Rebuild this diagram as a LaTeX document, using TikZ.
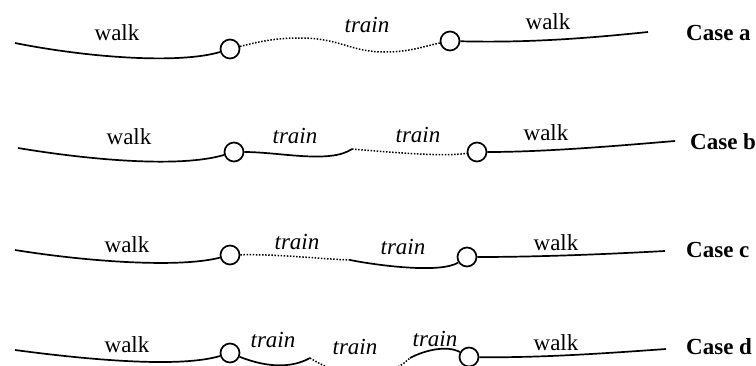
\documentclass[tikz,border=0pt]{standalone}
\usepackage{fontspec}
\setmainfont{Liberation Serif}
\begin{document}
\begin{tikzpicture}[x=1pt,y=-1pt,
  stop/.style={circle,draw,line width=1.7pt,minimum size=19pt,inner sep=0pt,fill=white},
  walkleg/.style={line width=1.7pt},
  trainleg/.style={line width=1.5pt,dash pattern=on 1.5pt off 1.6pt},
  lbl/.style={font=\fontsize{23}{26}\selectfont,inner sep=0pt},
  tlbl/.style={font=\fontsize{23}{26}\selectfont\itshape,inner sep=0pt},
  caselbl/.style={font=\fontsize{23}{26}\selectfont\bfseries,inner sep=0pt,anchor=west}]
\useasboundingbox (0,0) rectangle (756,365);
\clip (0,0) rectangle (756,365);
% Case a
\coordinate (a0) at (15,43);
\node[stop] (a1) at (230,49) {};
\node[stop] (a2) at (450,41) {};
\coordinate (a3) at (648,32);
\draw[walkleg] (a0) .. controls (90,58) and (180,64) .. (a1);
\draw[trainleg] (a1) .. controls (265,40) and (280,38) .. (300,38) .. controls (340,38) and (350,52) .. (385,52) .. controls (410,52) and (425,46) .. (a2);
\draw[walkleg] (a2) .. controls (530,43) and (590,38) .. (a3);
\node[lbl] (aw1) at (117,33) {walk};
\node[tlbl] (at1) at (367,25) {train};
\node[lbl] (aw2) at (548,22) {walk};
\node[caselbl] (ca) at (686,33) {Case a};
% Case b
\coordinate (b0) at (18,148);
\node[stop] (b1) at (234,152) {};
\coordinate (bm) at (352,149);
\node[stop] (b2) at (477,152) {};
\coordinate (b3) at (675,141);
\draw[walkleg] (b0) .. controls (90,160) and (180,168) .. (b1);
\draw[walkleg] (b1) .. controls (280,152) and (330,164) .. (bm);
\draw[trainleg] (bm) .. controls (390,152) and (440,157) .. (b2);
\draw[walkleg] (b2) .. controls (545,152) and (615,146) .. (b3);
\node[lbl] (bw1) at (129,137) {walk};
\node[tlbl] (bt1) at (295,136) {train};
\node[tlbl] (bt2) at (418,135) {train};
\node[lbl] (bw2) at (546,133) {walk};
\node[caselbl] (cb) at (690,142) {Case b};
% Case c
\coordinate (c0) at (15,250);
\node[stop] (c1) at (230,255) {};
\coordinate (cm) at (350,260);
\node[stop] (c2) at (467,257) {};
\coordinate (c3) at (665,251);
\draw[walkleg] (c0) .. controls (90,262) and (180,268) .. (c1);
\draw[trainleg] (c1) .. controls (280,254) and (320,259) .. (cm);
\draw[walkleg] (cm) .. controls (375,265) and (440,274) .. (c2);
\draw[walkleg] (c2) .. controls (540,257) and (610,254) .. (c3);
\node[lbl] (cw1) at (127,245) {walk};
\node[tlbl] (ct1) at (297,242) {train};
\node[tlbl] (ct2) at (403,247) {train};
\node[lbl] (cw2) at (556,243) {walk};
\node[caselbl] (cc) at (686,250) {Case c};
% Case d
\coordinate (d0) at (15,350);
\node[stop] (d1) at (230,353) {};
\coordinate (dm1) at (310,358);
\coordinate (dm2) at (410,358);
\node[stop] (d2) at (469,357) {};
\coordinate (d3) at (666,349);
\draw[walkleg] (d0) .. controls (90,360) and (180,368) .. (d1);
\draw[walkleg] (d1) .. controls (268,368) and (292,368) .. (dm1);
\draw[trainleg] (dm1) .. controls (345,380) and (385,382) .. (dm2);
\draw[walkleg] (dm2) .. controls (425,350) and (447,345) .. (d2);
\draw[walkleg] (d2) .. controls (540,358) and (610,353) .. (d3);
\node[lbl] (dw1) at (127,345) {walk};
\node[tlbl] (dt1) at (273,340) {train};
\node[tlbl] (dt2) at (355,347) {train};
\node[tlbl] (dt3) at (435,339) {train};
\node[lbl] (dw2) at (556,343) {walk};
\node[caselbl] (cd) at (686,347) {Case d};
\end{tikzpicture}
\end{document}
